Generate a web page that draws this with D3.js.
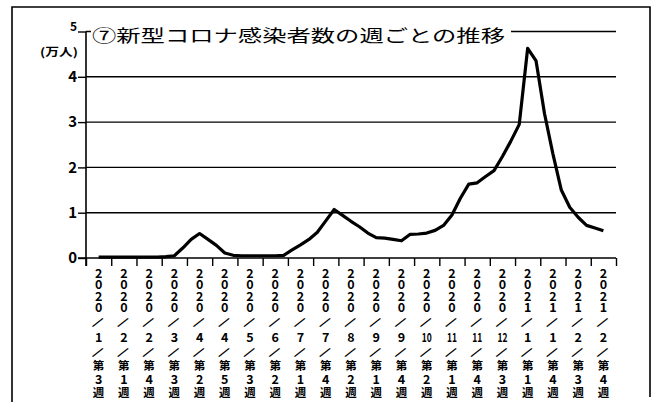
<!DOCTYPE html>
<html>
<head>
<meta charset="utf-8">
<script src="https://cdn.jsdelivr.net/npm/d3@7"></script>
<style>
  body { margin: 0; background: #fff; }
  text { font-family: "Noto Sans CJK JP", "Noto Sans", sans-serif; fill: #000; }
</style>
</head>
<body>
<script>

// category labels, one every 3 weeks
var labelYears  = ["2020","2020","2020","2020","2020","2020","2020","2020","2020","2020","2020",
                   "2020","2020","2020","2020","2020","2020","2021","2021","2021","2021"];
var labelMonths = ["1","2","2","3","4","4","5","6","7","7","8","9","9","10","11","11","12","1","1","2","2"];
var labelWeeks  = ["3","1","4","3","2","5","3","2","1","4","2","1","4","2","1","4","3","1","4","3","4"];

// weekly infections (万人)
var weekValues = [
  0.02, 0.02, 0.02, 0.02, 0.02, 0.02, 0.02, 0.02, 0.03, 0.05,
  0.22, 0.41, 0.54, 0.41, 0.28, 0.11, 0.06, 0.05, 0.05, 0.05,
  0.05, 0.05, 0.06, 0.18, 0.29, 0.41, 0.57, 0.82, 1.07, 0.94,
  0.81, 0.69, 0.55, 0.45, 0.44, 0.41, 0.38, 0.52, 0.53, 0.55,
  0.61, 0.72, 0.95, 1.32, 1.63, 1.66, 1.80, 1.93, 2.24, 2.58,
  2.95, 4.63, 4.35, 3.19, 2.30, 1.50, 1.12, 0.90, 0.72, 0.66,
  0.60
];

var yTicks = [0, 1, 2, 3, 4, 5];
var title = "⑦新型コロナ感染者数の週ごとの推移";
var unitLabel = "(万人)";

var width = 657, height = 409;

var svg = d3.select("body").append("svg")
    .attr("width", width)
    .attr("height", height);

// x: one unit per week, 3 weeks per labelled band
var x = d3.scaleLinear()
    .domain([-1.5, labelMonths.length * 3 - 1.5])
    .range([86, 616]);

var y = d3.scaleLinear()
    .domain([0, 5])
    .range([258, 31.5]);

// outer frame
svg.append("path")
    .attr("d", "M12,402 L12,7 L650,7 L650,397")
    .attr("fill", "none")
    .attr("stroke", "#000")
    .attr("stroke-width", 1.6);

// gridlines
svg.append("g")
  .selectAll("line")
  .data(yTicks.filter(function (d) { return d > 0; }))
  .enter().append("line")
    .attr("x1", x.range()[0])
    .attr("x2", x.range()[1])
    .attr("y1", function (d) { return y(d); })
    .attr("y2", function (d) { return y(d); })
    .attr("stroke", "#000")
    .attr("stroke-width", 1.4);

// y axis
var yAxis = svg.append("g")
    .attr("transform", "translate(86,0)")
    .call(d3.axisLeft(y).tickValues(yTicks).tickSize(8).tickPadding(1).tickFormat(d3.format("d")));
yAxis.select(".domain").attr("stroke-width", 1.6).attr("d", "M0," + y(5) + "V266");
yAxis.selectAll(".tick line").attr("stroke-width", 1.4);
yAxis.selectAll(".tick text")
    .style("font-family", "'Noto Sans CJK JP', sans-serif")
    .style("font-weight", "bold")
    .style("font-size", function (d) { return d === 5 ? "12px" : "15px"; })
    .attr("dy", function (d) { return d === 5 ? "-0.1em" : "0.32em"; });

svg.append("text")
    .attr("x", 40)
    .attr("y", 51)
    .attr("dominant-baseline", "central")
    .attr("textLength", 38)
    .attr("lengthAdjust", "spacingAndGlyphs")
    .style("font-size", "11px")
    .style("font-weight", "bold")
    .text(unitLabel);

// x axis with ticks at band boundaries
var bounds = d3.range(labelMonths.length + 1).map(function (k) { return k * 3 - 1.5; });
var xAxis = svg.append("g")
    .attr("transform", "translate(0," + y(0) + ")")
    .call(d3.axisBottom(x).tickValues(bounds).tickSize(8).tickFormat(""));
xAxis.select(".domain").attr("stroke-width", 1.6).attr("d", "M78,0H616");
xAxis.selectAll(".tick line").attr("stroke-width", 1.4);

// vertical stacked category labels
var rowY = [272, 283.5, 295, 306.5, 321.5, 336.5, 351.5, 365, 378.5, 391.5];
var labelG = svg.append("g")
  .selectAll("g")
  .data(labelMonths.map(function (m, i) {
    return { i: i, rows: labelYears[i].split("").concat(["/", m, "/", "第", labelWeeks[i], "週"]) };
  }))
  .enter().append("g")
    .attr("transform", function (d) { return "translate(" + x(d.i * 3) + ",0)"; });

labelG.selectAll("text")
  .data(function (d) { return d.rows; })
  .enter().append("text")
    .attr("x", 0)
    .attr("y", 0)
    .attr("transform", function (d, j) {
      return "translate(0," + rowY[j] + ")" + (d === "/" ? " rotate(38)" : "");
    })
    .attr("text-anchor", "middle")
    .attr("dominant-baseline", "central")
    .style("font-weight", "bold")
    .style("font-size", function (d) {
      if (d === "第" || d === "週") return "11.5px";
      if (d === "/") return "13px";
      return "12.5px";
    })
    .each(function (d) {
      if (d.length === 2) {
        d3.select(this).attr("textLength", 10).attr("lengthAdjust", "spacingAndGlyphs");
      }
    })
    .text(function (d) { return d; });

// data line
var line = d3.line()
    .x(function (d, i) { return x(i); })
    .y(function (d) { return y(d); });

svg.append("path")
    .datum(weekValues)
    .attr("d", line)
    .attr("fill", "none")
    .attr("stroke", "#000")
    .attr("stroke-width", 3.2)
    .attr("stroke-linejoin", "round");

// title over the top gridline
svg.append("rect")
    .attr("x", 91)
    .attr("y", 20)
    .attr("width", 420)
    .attr("height", 26)
    .attr("fill", "#fff");

svg.append("text")
    .attr("x", 92)
    .attr("y", 34.5)
    .attr("dominant-baseline", "central")
    .attr("textLength", 413)
    .attr("lengthAdjust", "spacingAndGlyphs")
    .style("font-size", "17px")
    .text(title);

</script>
</body>
</html>
